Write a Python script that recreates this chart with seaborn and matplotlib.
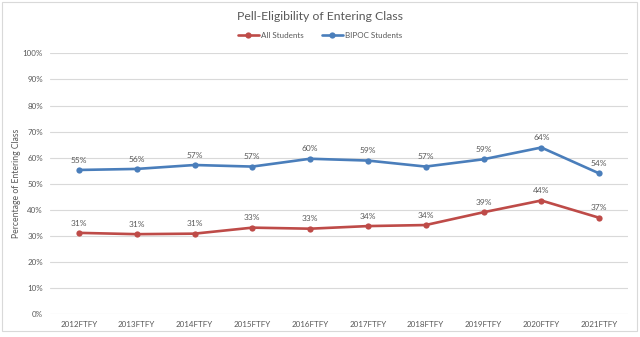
import matplotlib
matplotlib.use("Agg")
import matplotlib.pyplot as plt
from matplotlib.patches import FancyBboxPatch
from matplotlib.ticker import PercentFormatter
import seaborn as sns
import pandas as pd

# Entering cohorts
cohorts = ["2012FTFY", "2013FTFY", "2014FTFY", "2015FTFY", "2016FTFY",
           "2017FTFY", "2018FTFY", "2019FTFY", "2020FTFY", "2021FTFY"]
# Share of Pell-eligible students (%)
all_students = [31.2, 30.7, 30.9, 33.2, 32.8, 33.8, 34.2, 39.1, 43.6, 37.0]
bipoc_students = [55.3, 55.7, 57.2, 56.6, 59.6, 58.9, 56.6, 59.4, 63.9, 54.0]
series_names = ["All Students", "BIPOC Students"]
y_ticks = list(range(0, 101, 10))

df = pd.DataFrame({
    "Cohort": cohorts * 2,
    "Percent": all_students + bipoc_students,
    "Series": [series_names[0]] * len(cohorts) + [series_names[1]] * len(cohorts),
})

sns.set_theme(style="white")
plt.rcParams["font.family"] = ["Lato", "DejaVu Sans"]
text_color = "#595959"
palette = {"All Students": "#BE4B48", "BIPOC Students": "#4A7EBB"}

fig = plt.figure(figsize=(6.4, 3.37), dpi=100)
ax = fig.add_axes([50 / 640, 1 - 314.3 / 337, 578 / 640, 261 / 337])

sns.lineplot(data=df, x="Cohort", y="Percent", hue="Series", palette=palette,
             marker="o", markersize=4.5, markeredgewidth=0, linewidth=1.9,
             sort=False, ax=ax, legend=True)

# Value labels above each point
for name, vals in zip(series_names, [all_students, bipoc_students]):
    for i, v in enumerate(vals):
        ax.annotate(f"{v:.0f}%", (i, v), xytext=(0, 4.5), textcoords="offset points",
                    ha="center", va="bottom", fontsize=6.0, color=text_color)

ax.set_xlim(-0.5, len(cohorts) - 0.5)
ax.set_ylim(0, 100)
ax.set_yticks(y_ticks)
ax.yaxis.set_major_formatter(PercentFormatter(decimals=0))
ax.grid(axis="y", color="#D9D9D9", linewidth=0.8)
ax.set_axisbelow(True)
for s in ax.spines.values():
    s.set_visible(False)
ax.tick_params(axis="both", length=0, labelsize=5.8, labelcolor=text_color, pad=5)
ax.set_xlabel("")
ax.set_ylabel("Percentage of Entering Class", fontsize=6.2, color=text_color, labelpad=1.5)

leg = ax.legend(loc="center", bbox_to_anchor=(0.5, (337 - 35) / 337), bbox_transform=fig.transFigure,
                ncol=2, frameon=False, fontsize=5.8, handlelength=2.6, columnspacing=2.2,
                handletextpad=0.3)
for t in leg.get_texts():
    t.set_color(text_color)

fig.text(0.5, 1 - 16 / 337, "Pell-Eligibility of Entering Class", ha="center", va="center",
         fontsize=8.8, color=text_color)

# Chart-area border
border = FancyBboxPatch((2 / 640, 1 - 331 / 337), 635 / 640, 329 / 337,
                        boxstyle="square,pad=0", transform=fig.transFigure,
                        fill=False, edgecolor="#D9D9D9", linewidth=0.8)
fig.patches.append(border)

fig.savefig("out.png", dpi=100)
